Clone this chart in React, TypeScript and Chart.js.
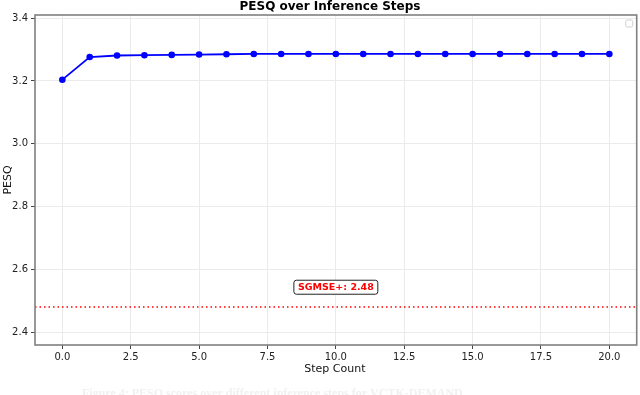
import React, { useEffect, useRef } from "react";
import { Chart, registerables } from "chart.js";

Chart.register(...registerables);

const steps = [0, 1, 2, 3, 4, 5, 6, 7, 8, 9, 10, 11, 12, 13, 14, 15, 16, 17, 18, 19, 20];
const pesq = [3.204, 3.276, 3.281, 3.282, 3.283, 3.284, 3.285, 3.286, 3.286, 3.286, 3.286, 3.286, 3.286, 3.286, 3.286, 3.286, 3.286, 3.286, 3.286, 3.286, 3.286];
const baselineValue = 2.48;
const baselineLabel = "SGMSE+: 2.48";
const xTicks = [0, 2.5, 5, 7.5, 10, 12.5, 15, 17.5, 20];
const yTicks = [2.4, 2.6, 2.8, 3.0, 3.2, 3.4];
const titleText = "PESQ over Inference Steps";
const xTitle = "Step Count";
const yTitle = "PESQ";
const captionText = "Figure 4: PESQ scores over different inference steps for VCTK-DEMAND.";

const FONT = "'DejaVu Sans', sans-serif";

const overlay = {
  id: "overlay",
  afterDraw(chart: any) {
    const { ctx, chartArea, scales } = chart;
    const { left, right, top, bottom } = chartArea;
    const x = scales.x;
    const y = scales.y;
    ctx.save();
    // baseline dotted line
    const yb = y.getPixelForValue(baselineValue);
    ctx.strokeStyle = "#ff0000";
    ctx.lineWidth = 1.5;
    ctx.setLineDash([1.5, 3]);
    ctx.beginPath();
    ctx.moveTo(left, yb);
    ctx.lineTo(right, yb);
    ctx.stroke();
    ctx.setLineDash([]);
    // label box
    ctx.font = `bold 9.5px ${FONT}`;
    const tw = ctx.measureText(baselineLabel).width;
    const cx = x.getPixelForValue(10);
    const cy = y.getPixelForValue(2.543);
    const bw = tw + 8;
    const bh = 14;
    const bx = cx - bw / 2;
    const by = cy - bh / 2;
    ctx.fillStyle = "#ffffff";
    ctx.strokeStyle = "#222";
    ctx.lineWidth = 1;
    ctx.beginPath();
    (ctx as any).roundRect(bx, by, bw, bh, 2.5);
    ctx.fill();
    ctx.stroke();
    ctx.fillStyle = "#ff0000";
    ctx.textAlign = "center";
    ctx.textBaseline = "middle";
    ctx.fillText(baselineLabel, cx, cy + 0.5);
    // frame
    ctx.strokeStyle = "#808080";
    ctx.lineWidth = 1.6;
    ctx.strokeRect(left, top, right - left, bottom - top);
    // empty legend
    ctx.strokeStyle = "#d0d0d0";
    ctx.lineWidth = 1;
    ctx.beginPath();
    (ctx as any).roundRect(right - 11, top + 5, 7, 7, 1.5);
    ctx.stroke();
    // title
    ctx.fillStyle = "#000";
    ctx.font = `bold 12px ${FONT}`;
    ctx.textAlign = "center";
    ctx.textBaseline = "alphabetic";
    ctx.fillText(titleText, 330, 10);
    // axis titles
    ctx.font = `11px ${FONT}`;
    ctx.fillStyle = "#111";
    ctx.textBaseline = "middle";
    ctx.fillText(xTitle, (left + right) / 2 - 1, 369);
    ctx.save();
    ctx.translate(8, (top + bottom) / 2);
    ctx.rotate(-Math.PI / 2);
    ctx.fillText(yTitle, 0, 0);
    ctx.restore();
    // caption (faint)
    ctx.font = `bold 12px 'Liberation Serif', serif`;
    ctx.fillStyle = "#f0f0f0";
    ctx.textAlign = "left";
    ctx.textBaseline = "alphabetic";
    ctx.fillText(captionText, 82, 397);
    ctx.restore();
  },
};

export default function App() {
  const ref = useRef<HTMLCanvasElement | null>(null);
  useEffect(() => {
    document.body.style.margin = "0";
    const canvas = ref.current!;
    const chart = new Chart(canvas, {
      type: "line",
      data: {
        datasets: [
          {
            data: steps.map((s, i) => ({ x: s, y: pesq[i] })),
            borderColor: "#0000ff",
            backgroundColor: "#0000ff",
            borderWidth: 1.8,
            pointRadius: 3.3,
            pointHoverRadius: 3.3,
            pointBorderWidth: 0,
            tension: 0,
          },
        ],
      },
      options: {
        responsive: false,
        animation: false,
        devicePixelRatio: 1,
        layout: { padding: { top: 15, right: 1, left: 0, bottom: 0 } },
        plugins: { legend: { display: false }, title: { display: false }, tooltip: { enabled: false } },
        scales: {
          x: {
            type: "linear",
            min: -1,
            max: 21,
            afterBuildTicks: (s: any) => {
              s.ticks = xTicks.map((v) => ({ value: v }));
            },
            afterFit: (s: any) => {
              s.height = 50;
            },
            ticks: {
              callback: (v: any) => Number(v).toFixed(1),
              font: { family: FONT, size: 10 },
              color: "#222",
              padding: 2,
              maxRotation: 0,
              autoSkip: false,
            },
            grid: { color: "#ebebeb", tickColor: "#444", tickLength: 4, lineWidth: 1 },
            border: { display: false },
          },
          y: {
            type: "linear",
            min: 2.359,
            max: 3.41,
            afterBuildTicks: (s: any) => {
              s.ticks = yTicks.map((v) => ({ value: v }));
            },
            afterFit: (s: any) => {
              s.width = 35;
            },
            ticks: {
              callback: (v: any) => Number(v).toFixed(1),
              font: { family: FONT, size: 10 },
              color: "#222",
              padding: 3,
              autoSkip: false,
            },
            grid: { color: "#ebebeb", tickColor: "#444", tickLength: 4, lineWidth: 1 },
            border: { display: false },
          },
        },
      },
      plugins: [overlay],
    });
    return () => chart.destroy();
  }, []);
  return (
    <div style={{ position: "fixed", left: 0, top: 0, width: 640, height: 395, background: "#fff" }}>
      <canvas ref={ref} width={640} height={395} style={{ display: "block", width: 640, height: 395 }} />
    </div>
  );
}
